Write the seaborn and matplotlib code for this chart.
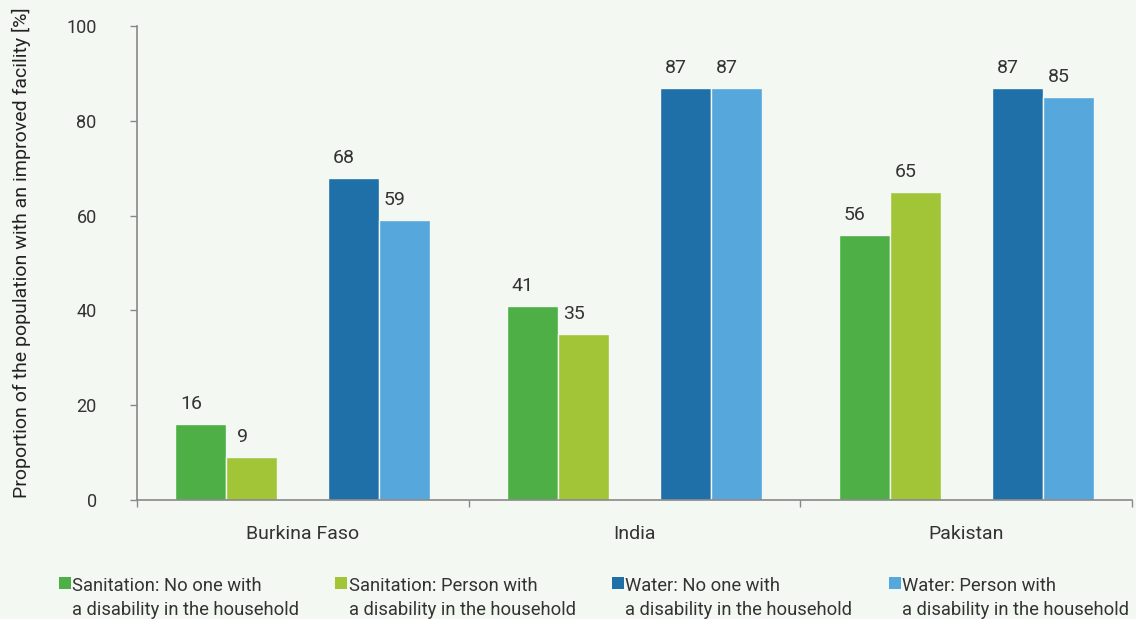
import matplotlib
matplotlib.use("Agg")
import matplotlib.pyplot as plt
import seaborn as sns
import pandas as pd
from matplotlib.patches import Rectangle
from matplotlib.legend_handler import HandlerPatch

countries = ["Burkina Faso", "India", "Pakistan"]
series = [
    "Sanitation: No one with\na disability in the household",
    "Sanitation: Person with\na disability in the household",
    "Water: No one with\na disability in the household",
    "Water: Person with\na disability in the household",
]
san_no = [16, 41, 56]
san_person = [9, 35, 65]
water_no = [68, 87, 87]
water_person = [59, 87, 85]
colors = ["#4daf46", "#a2c538", "#1f6fa8", "#55a7dc"]
yticks = [0, 20, 40, 60, 80, 100]
ylabel = "Proportion of the population with an improved facility [%]"

BG = "#f4f8f3"
TXT = "#333333"
GAP = "_gap"

rows = []
for vals, s in zip([san_no, san_person, water_no, water_person], series):
    for c, v in zip(countries, vals):
        rows.append({"country": c, "series": s, "value": v})
df = pd.DataFrame(rows)

hue_order = [series[0], series[1], GAP, series[2], series[3]]
palette = {s: col for s, col in zip(series, colors)}
palette[GAP] = BG

sns.set_theme(style="ticks")
plt.rcParams["font.family"] = ["Roboto", "DejaVu Sans"]

fig = plt.figure(figsize=(11.36, 6.19), dpi=100, facecolor=BG)
ax = fig.add_axes([0.1206, 0.192, 0.8759, 0.766])
ax.set_facecolor(BG)

sns.barplot(data=df, x="country", y="value", hue="series", hue_order=hue_order,
            order=countries, palette=palette, width=0.768, ax=ax,
            edgecolor=BG, linewidth=1, legend=False, saturation=1, errorbar=None)

for cont in ax.containers:
    anns = ax.bar_label(cont, fmt="%g", padding=8, fontsize=14, color=TXT)
    for a in anns:
        a.xyann = (-7, 8)

ax.set_ylim(0, 100)
ax.set_xlim(-0.5, 2.5)
ax.set_yticks(yticks)
ax.set_xlabel("")
ax.set_ylabel(ylabel, fontsize=14, color="#222222")
ax.yaxis.set_label_coords(-0.107, 0.522)
ax.tick_params(axis="y", length=5, width=1, color="#888888", labelcolor=TXT, labelsize=13, pad=24)
ax.tick_params(axis="x", which="major", length=0, labelcolor=TXT, labelsize=14, pad=18)
ax.set_xticks([-0.5, 0.5, 1.5, 2.5], minor=True)
ax.tick_params(axis="x", which="minor", length=5, width=1, color="#888888")
for sp in ["top", "right"]:
    ax.spines[sp].set_visible(False)
for sp in ["left", "bottom"]:
    ax.spines[sp].set_color("#888888")
    ax.spines[sp].set_linewidth(1.2)

class TopSquare(HandlerPatch):
    def create_artists(self, legend, orig_handle, xdescent, ydescent, width, height, fontsize, trans):
        size = 8.6
        r = Rectangle((-xdescent + width - size, -ydescent + height + 1.8), size, size,
                      facecolor=orig_handle.get_facecolor(), edgecolor="none", transform=trans)
        return [r]

handles = [Rectangle((0, 0), 1, 1, facecolor=c) for c in colors]
leg = fig.legend(handles, series, loc="lower left", bbox_to_anchor=(0.045, -0.012), ncol=4,
                 frameon=False, fontsize=13.2, handler_map={Rectangle: TopSquare()},
                 handlelength=0.66, handleheight=0.9, handletextpad=0.06, columnspacing=2.0,
                 labelspacing=0.2, borderaxespad=0)
for t in leg.get_texts():
    t.set_color(TXT)
    t.set_linespacing(1.45)

fig.savefig("out.png", dpi=100, facecolor=BG)
